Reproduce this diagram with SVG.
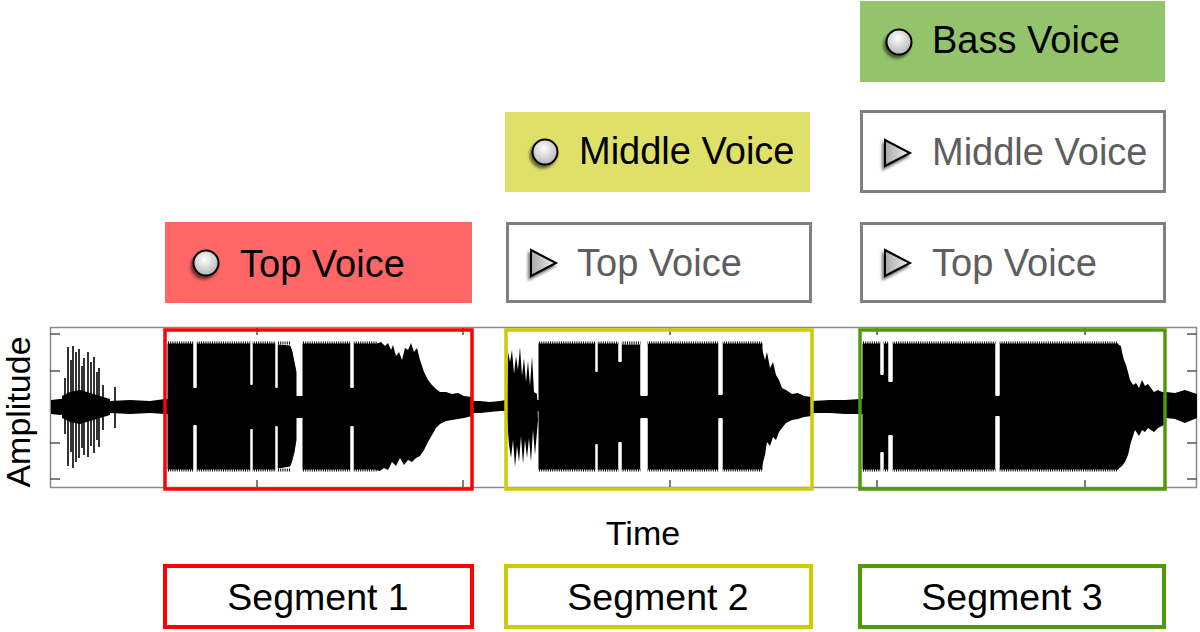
<svg xmlns="http://www.w3.org/2000/svg" width="1200" height="632" viewBox="0 0 1200 632">
<style>
text{font-family:"Liberation Sans",Arial,sans-serif}
.lab{font-size:38px;fill:#000}
.glab{font-size:38px;fill:#5e5e5e}
.gbox{fill:#fff;stroke:#808080;stroke-width:3}
.seg{font-size:37.5px;fill:#000;text-anchor:middle}
.axis{font-size:34px;fill:#000;text-anchor:middle}
.frame{fill:none;stroke:#8a8a8a;stroke-width:1.5}
.tick{stroke:#555;stroke-width:1.5}
.blk{fill:#000;stroke:#000;stroke-width:1}
.fz{stroke:#000;stroke-width:3;stroke-dasharray:1 1.2;fill:none}
.w{fill:#000}
.sp{stroke:#000;stroke-width:1.6;fill:none}
.dot{fill:url(#gc);stroke:#000;stroke-width:2;filter:url(#sh)}
.tri{fill:url(#gt);stroke:#000;stroke-width:2;stroke-linejoin:miter;filter:url(#sh)}
</style>
<defs>
<radialGradient id="gc" cx="45%" cy="35%" r="65%"><stop offset="0" stop-color="#ffffff"/><stop offset="1" stop-color="#b4b4b4"/></radialGradient>
<linearGradient id="gt" x1="0" y1="0" x2="1" y2="0"><stop offset="0" stop-color="#a8a8a8"/><stop offset="1" stop-color="#f2f2f2"/></linearGradient>
<filter id="sh" x="-60%" y="-60%" width="220%" height="220%"><feDropShadow dx="-2" dy="3" stdDeviation="1.5" flood-color="#000" flood-opacity="0.55"/></filter>
</defs>
<rect width="1200" height="632" fill="#fff"/>

<!-- Voice boxes -->
<g id="top-voice-1">
<rect x="165" y="222" width="307" height="81" fill="#ff6666"/>
<circle class="dot" cx="206" cy="263" r="12.5"/>
<text class="lab" x="240" y="277">Top Voice</text>
</g>
<g id="middle-voice-2">
<rect x="505" y="112" width="305" height="80" fill="#dfe067"/>
<circle class="dot" cx="545" cy="152" r="12.5"/>
<text class="lab" x="579" y="164">Middle Voice</text>
</g>
<g id="top-voice-2">
<rect class="gbox" x="507.5" y="223.5" width="303" height="78"/>
<polygon class="tri" points="531,250 556,263 531,276"/>
<text class="glab" x="577" y="276">Top Voice</text>
</g>
<g id="bass-voice-3">
<rect x="860" y="1" width="305" height="81" fill="#93c46b"/>
<circle class="dot" cx="899" cy="42" r="12.5"/>
<text class="lab" x="932" y="53">Bass Voice</text>
</g>
<g id="middle-voice-3">
<rect class="gbox" x="861.5" y="111.5" width="303" height="80"/>
<polygon class="tri" points="885,140 910,153 885,166"/>
<text class="glab" x="932" y="165">Middle Voice</text>
</g>
<g id="top-voice-3">
<rect class="gbox" x="861.5" y="223.5" width="303" height="78"/>
<polygon class="tri" points="885,250 910,263 885,276"/>
<text class="glab" x="932" y="276">Top Voice</text>
</g>

<!-- Plot -->
<g id="plot">
<rect class="frame" x="50.5" y="327.5" width="1146" height="160"/>
<g class="tick">
<line x1="50" y1="334" x2="60" y2="334"/><line x1="50" y1="371" x2="60" y2="371"/><line x1="50" y1="443" x2="60" y2="443"/><line x1="50" y1="479" x2="60" y2="479"/>
<line x1="1187" y1="334" x2="1197" y2="334"/><line x1="1187" y1="371" x2="1197" y2="371"/><line x1="1187" y1="443" x2="1197" y2="443"/><line x1="1187" y1="479" x2="1197" y2="479"/>
<line x1="257" y1="328" x2="257" y2="335"/><line x1="463" y1="328" x2="463" y2="335"/><line x1="670" y1="328" x2="670" y2="335"/><line x1="877" y1="328" x2="877" y2="335"/><line x1="1085" y1="328" x2="1085" y2="335"/>
<line x1="257" y1="480" x2="257" y2="487"/><line x1="463" y1="480" x2="463" y2="487"/><line x1="670" y1="480" x2="670" y2="487"/><line x1="877" y1="480" x2="877" y2="487"/><line x1="1085" y1="480" x2="1085" y2="487"/>
</g>

<!-- waveform -->
<g id="waveform">
<!-- noise band -->
<polygon class="w" points="51,400 60,399 70,398 80,400 95,399 110,401 130,400 150,401 165,399 480,401 490,402 500,401 506,400 812,401 830,400 845,400 860,399 1166,392 1175,393 1185,390 1197,394 1197,418 1185,423 1175,419 1166,418 860,414 845,414 830,413 812,413 506,411 500,411 490,412 480,413 165,414 150,413 130,414 110,413 95,414 80,415 70,414 60,415 51,414"/>
<!-- pre-segment bursts -->
<polygon class="w" points="62,396 70,392 80,390 90,393 100,396 110,399 110,415 100,418 90,421 80,424 70,422 62,418"/>
<g class="sp">
<line x1="65" y1="378" x2="65" y2="434"/>
<line x1="68" y1="347" x2="68" y2="466"/>
<line x1="71" y1="360" x2="71" y2="452"/>
<line x1="73" y1="346" x2="73" y2="468"/>
<line x1="76" y1="352" x2="76" y2="462"/>
<line x1="79" y1="349" x2="79" y2="458"/>
<line x1="82" y1="366" x2="82" y2="448"/>
<line x1="84" y1="358" x2="84" y2="455"/>
<line x1="88" y1="352" x2="88" y2="457"/>
<line x1="91" y1="362" x2="91" y2="446"/>
<line x1="94" y1="357" x2="94" y2="453"/>
<line x1="97" y1="372" x2="97" y2="440"/>
<line x1="99" y1="368" x2="99" y2="447"/>
<line x1="103" y1="385" x2="103" y2="430"/>
<line x1="115" y1="387" x2="115" y2="428"/>
</g>

<!-- segment 1 -->
<rect class="blk" x="168" y="344" width="25" height="125"/>
<rect class="blk" x="197" y="344" width="53" height="125"/>
<rect class="blk" x="253" y="344" width="22" height="125"/>
<polygon class="blk" points="278,345 290,346 292,352 294,362 296,372 296,440 294,452 292,460 290,466 278,468"/>
<rect class="blk" x="303" y="344" width="47" height="125"/>
<rect class="blk" x="354" y="344" width="23" height="125"/>
<g class="fz">
<line x1="168" y1="343" x2="290" y2="343"/><line x1="168" y1="470" x2="290" y2="470"/>
<line x1="303" y1="343" x2="377" y2="343"/><line x1="303" y1="470" x2="377" y2="470"/>
</g>
<rect x="193.5" y="340" width="3" height="47" fill="#fff"/><rect x="193.5" y="426" width="3" height="46" fill="#fff"/>
<rect x="250.5" y="340" width="2" height="44" fill="#fff"/><rect x="250.5" y="430" width="2" height="42" fill="#fff"/>
<rect x="275.5" y="340" width="2" height="47" fill="#fff"/><rect x="275.5" y="427" width="2" height="45" fill="#fff"/>
<rect x="350.5" y="340" width="3" height="47" fill="#fff"/><rect x="350.5" y="427" width="3" height="45" fill="#fff"/>
<rect class="w" x="192" y="388" width="7" height="37"/>
<rect class="w" x="249" y="385" width="6" height="44"/>
<rect class="w" x="274" y="388" width="6" height="38"/>
<rect class="w" x="294" y="396" width="11" height="22"/>
<rect class="w" x="349" y="388" width="7" height="38"/>
<polygon class="w" points="376,344 381,342 385,346 388,343 391,350 393,345 396,356 399,352 402,360 405,348 408,350 411,343 414,352 417,348 420,360 424,372 428,380 432,385 436,389 440,392 446,392 452,394 458,393 464,396 472,397 472,416 464,418 458,419 452,420 446,421 440,424 436,428 432,435 428,442 424,450 420,456 416,458 412,462 408,460 404,465 400,458 396,466 392,462 388,470 384,468 380,471 376,470"/>

<!-- segment 2 -->
<polygon class="w" points="507,400 508,352 510,362 512,350 514,374 516,356 518,370 520,347 522,376 524,358 526,382 528,361 530,386 532,356 534,392 537,394 538,420 535,455 533,430 531,462 529,438 527,458 525,440 523,464 521,436 519,462 517,446 515,467 513,440 511,458 509,445 507,418"/>
<rect class="blk" x="539" y="344" width="56" height="125"/>
<rect class="blk" x="598" y="344" width="20" height="125"/>
<rect class="blk" x="622" y="345" width="18" height="124"/>
<rect class="blk" x="648" y="344" width="70" height="125"/>
<rect class="blk" x="723" y="344" width="39" height="125"/>
<g class="fz">
<line x1="539" y1="343" x2="762" y2="343"/><line x1="539" y1="470" x2="762" y2="470"/>
</g>
<rect x="595.5" y="340" width="2" height="31" fill="#fff"/><rect x="595.5" y="445" width="2" height="27" fill="#fff"/>
<rect x="618.5" y="340" width="3" height="21" fill="#fff"/><rect x="618.5" y="443" width="3" height="29" fill="#fff"/>
<rect x="640.5" y="340" width="7" height="55" fill="#fff"/><rect x="640.5" y="419" width="7" height="53" fill="#fff"/>
<rect x="718.5" y="340" width="4" height="54" fill="#fff"/><rect x="718.5" y="419" width="4" height="53" fill="#fff"/>
<rect class="w" x="594" y="372" width="6" height="72"/>
<rect class="w" x="617" y="362" width="7" height="80"/>
<rect class="w" x="639" y="396" width="11" height="22"/>
<rect class="w" x="717" y="395" width="8" height="23"/>
<polygon class="w" points="761,345 765,360 767,352 770,368 773,362 776,375 779,380 782,388 786,390 792,394 798,393 804,396 812,397 812,416 804,417 798,419 792,420 786,423 782,428 779,432 776,440 773,437 770,446 767,442 765,455 761,470"/>

<!-- segment 3 -->
<rect class="blk" x="863" y="344" width="17" height="125"/>
<rect class="blk" x="884" y="344" width="4" height="125"/>
<rect class="blk" x="893" y="344" width="102" height="125"/>
<rect class="blk" x="1000" y="344" width="118" height="125"/>
<g class="fz">
<line x1="863" y1="343" x2="1118" y2="343"/><line x1="863" y1="470" x2="1118" y2="470"/>
</g>
<rect x="880.5" y="340" width="3" height="34" fill="#fff"/><rect x="880.5" y="453" width="3" height="19" fill="#fff"/>
<rect x="888.5" y="340" width="4" height="41" fill="#fff"/><rect x="888.5" y="436" width="4" height="36" fill="#fff"/>
<rect x="995.5" y="340" width="4" height="55" fill="#fff"/><rect x="995.5" y="417" width="4" height="55" fill="#fff"/>
<rect class="w" x="879" y="375" width="6" height="77"/>
<rect class="w" x="887" y="382" width="7" height="53"/>
<rect class="w" x="994" y="396" width="7" height="20"/>
<polygon class="w" points="1117,344 1121,346 1122,352 1124,360 1126,365 1128,372 1130,380 1133,385 1136,383 1139,388 1142,380 1145,386 1148,384 1151,388 1154,392 1158,390 1166,394 1166,424 1158,428 1154,432 1151,430 1148,428 1145,432 1142,430 1139,436 1135,430 1131,442 1128,455 1125,462 1122,466 1117,470"/>
</g>

<!-- segment outline boxes on waveform -->
<rect x="165" y="330" width="307" height="159" fill="none" stroke="#ff0000" stroke-width="3.5"/>
<rect x="506" y="330" width="306" height="159" fill="none" stroke="#cccc00" stroke-width="3.5"/>
<rect x="860" y="330" width="305" height="159" fill="none" stroke="#4f9a0a" stroke-width="3.5"/>

<text class="axis" x="643" y="545">Time</text>
<text class="axis" transform="translate(30,412) rotate(-90)">Amplitude</text>
</g>

<!-- Segment labels -->
<g id="segment-1">
<rect x="165" y="566" width="307" height="61" fill="#fff" stroke="#ff0000" stroke-width="4"/>
<text class="seg" x="318" y="610">Segment 1</text>
</g>
<g id="segment-2">
<rect x="506" y="566" width="305" height="61" fill="#fff" stroke="#cccc00" stroke-width="4"/>
<text class="seg" x="658" y="610">Segment 2</text>
</g>
<g id="segment-3">
<rect x="860" y="566" width="304" height="61" fill="#fff" stroke="#4f9a0a" stroke-width="4"/>
<text class="seg" x="1012" y="610">Segment 3</text>
</g>
<g id="connectors"/>
</svg>
